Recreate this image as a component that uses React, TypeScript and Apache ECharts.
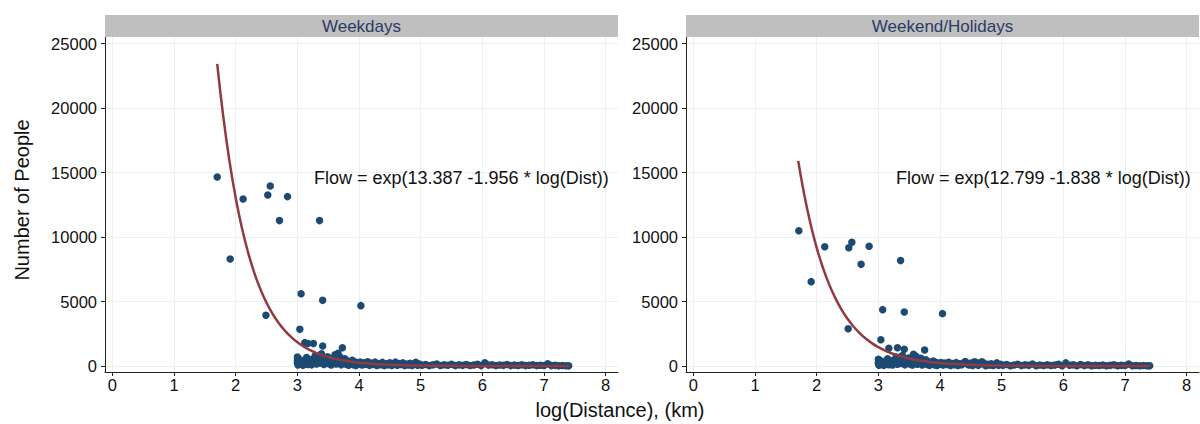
import React, { useEffect, useRef } from "react";
import * as echarts from "echarts";

// ---- tick labels ----
const xTicks = [0, 1, 2, 3, 4, 5, 6, 7, 8];
const yTicks = [0, 5000, 10000, 15000, 20000, 25000];

const panelTitles = ["Weekdays", "Weekend/Holidays"];
const fitLabels = [
  "Flow = exp(13.387 -1.956 * log(Dist))",
  "Flow = exp(12.799 -1.838 * log(Dist))",
];

// ---- Weekdays: isolated points ----
const wdOutX = [1.70, 1.91, 2.12, 2.49, 2.52, 2.56, 2.71, 2.84, 3.36, 3.06, 3.41, 4.03, 3.04, 3.12, 3.17, 3.26, 3.41, 3.73, 3.66, 3.00, 3.00];
const wdOutY = [14650, 8300, 12950, 3930, 13250, 13950, 11270, 13130, 11270, 5600, 5090, 4680, 2840, 1810, 1750, 1750, 1550, 1420, 980, 700, 450];

// ---- Weekdays: dense band ----
const wdBand: number[][] = [
  [3.00, 250], [3.01, 80], [3.03, 520], [3.05, 150], [3.07, 350], [3.09, 60], [3.11, 420], [3.13, 200],
  [3.15, 650], [3.17, 120], [3.19, 380], [3.21, 260], [3.23, 90], [3.25, 540], [3.27, 300], [3.29, 800],
  [3.31, 160], [3.33, 470], [3.35, 620], [3.37, 230], [3.39, 950], [3.41, 380], [3.43, 110], [3.45, 560],
  [3.47, 300], [3.49, 720], [3.51, 180], [3.53, 430], [3.55, 80], [3.57, 600], [3.59, 280], [3.61, 870],
  [3.63, 150], [3.65, 480], [3.67, 330], [3.69, 700], [3.71, 90], [3.73, 420], [3.75, 240], [3.77, 560],
  [3.79, 130], [3.81, 380], [3.83, 60], [3.85, 300], [3.87, 200], [3.89, 450], [3.91, 100], [3.93, 320],
  [3.95, 40], [3.97, 260], [3.99, 150],
  [4.02, 300], [4.05, 80], [4.08, 250], [4.11, 130], [4.14, 330], [4.17, 50], [4.20, 220], [4.23, 120],
  [4.26, 300], [4.29, 40], [4.32, 200], [4.35, 100], [4.38, 280], [4.41, 30], [4.44, 180], [4.47, 90],
  [4.50, 250], [4.53, 40], [4.56, 160], [4.59, 300], [4.62, 60], [4.65, 190], [4.68, 110], [4.71, 240],
  [4.74, 30], [4.77, 150], [4.80, 80], [4.83, 210], [4.86, 40], [4.89, 130], [4.92, 280], [4.95, 60], [4.98, 150],
  [5.02, 60], [5.08, 120], [5.14, 30], [5.20, 90], [5.26, 150], [5.32, 40], [5.38, 100], [5.44, 60],
  [5.50, 130], [5.56, 30], [5.62, 90], [5.68, 50], [5.74, 110], [5.80, 40], [5.86, 80], [5.92, 140],
  [5.98, 30], [6.04, 250], [6.10, 70], [6.16, 100], [6.22, 30], [6.28, 80], [6.34, 50], [6.40, 110],
  [6.46, 30], [6.52, 70], [6.58, 40], [6.64, 90], [6.70, 30], [6.76, 60], [6.82, 100], [6.88, 30],
  [6.94, 60], [7.00, 40], [7.06, 180], [7.12, 30], [7.18, 50], [7.24, 20], [7.30, 40], [7.36, 20], [7.40, 10],
];

// ---- Weekend/Holidays: isolated points ----
const weOutX = [1.71, 1.91, 2.13, 2.51, 2.52, 2.57, 2.72, 2.85, 3.36, 3.07, 3.42, 4.04, 3.04, 3.17, 3.31, 3.42, 3.75, 3.57, 3.00, 3.00];
const weOutY = [10490, 6540, 9250, 2890, 9170, 9590, 7880, 9280, 8170, 4370, 4190, 4060, 2040, 1370, 1420, 1300, 1240, 905, 520, 300];

// ---- Weekend/Holidays: dense band ----
const weBand: number[][] = [
  [3.00, 200], [3.01, 60], [3.03, 420], [3.05, 120], [3.07, 300], [3.09, 50], [3.11, 350], [3.13, 180],
  [3.15, 560], [3.17, 100], [3.19, 320], [3.21, 220], [3.23, 80], [3.25, 460], [3.27, 260], [3.29, 700],
  [3.31, 140], [3.33, 400], [3.35, 540], [3.37, 200], [3.39, 820], [3.41, 330], [3.43, 90], [3.45, 480],
  [3.47, 260], [3.49, 620], [3.51, 150], [3.53, 370], [3.55, 70], [3.57, 520], [3.59, 240], [3.61, 750],
  [3.63, 130], [3.65, 420], [3.67, 280], [3.69, 600], [3.71, 80], [3.73, 360], [3.75, 210], [3.77, 480],
  [3.79, 110], [3.81, 330], [3.83, 50], [3.85, 260], [3.87, 170], [3.89, 390], [3.91, 90], [3.93, 280],
  [3.95, 35], [3.97, 230], [3.99, 130],
  [4.02, 260], [4.05, 70], [4.08, 220], [4.11, 110], [4.14, 290], [4.17, 45], [4.20, 190], [4.23, 100],
  [4.26, 260], [4.29, 35], [4.32, 170], [4.35, 90], [4.38, 240], [4.41, 340], [4.44, 150], [4.47, 80],
  [4.50, 220], [4.53, 35], [4.56, 330], [4.59, 260], [4.62, 50], [4.65, 160], [4.68, 330], [4.71, 210],
  [4.74, 25], [4.77, 130], [4.80, 70], [4.83, 180], [4.86, 35], [4.89, 110], [4.92, 240], [4.95, 50], [4.98, 130],
  [5.02, 50], [5.08, 110], [5.14, 25], [5.20, 80], [5.26, 140], [5.32, 35], [5.38, 90], [5.44, 50],
  [5.50, 150], [5.56, 25], [5.62, 80], [5.68, 45], [5.74, 100], [5.80, 35], [5.86, 70], [5.92, 130],
  [5.98, 25], [6.04, 240], [6.10, 60], [6.16, 90], [6.22, 25], [6.28, 120], [6.34, 45], [6.40, 100],
  [6.46, 25], [6.52, 60], [6.58, 35], [6.64, 80], [6.70, 25], [6.76, 50], [6.82, 90], [6.88, 25],
  [6.94, 50], [7.00, 35], [7.06, 150], [7.12, 25], [7.18, 45], [7.24, 15], [7.30, 35], [7.36, 15], [7.40, 10],
];

// ---- fitted curves (values of the fitted model at these log-distances) ----
const curveX = [1.7, 1.8, 1.9, 2.0, 2.1, 2.2, 2.3, 2.4, 2.5, 2.6, 2.7, 2.8, 2.9, 3.0, 3.1, 3.2, 3.3, 3.4, 3.5, 3.6, 3.7, 3.8, 3.9, 4.0, 4.25, 4.5, 4.75, 5.0, 5.5, 6.0, 6.5, 7.0, 7.4];
const wdCurveY = [23429, 19267, 15844, 13029, 10715, 8811, 7246, 5959, 4900, 4030, 3314, 2725, 2241, 1843, 1515, 1246, 1025, 843, 693, 570, 469, 385, 317, 261, 160, 98, 60, 37, 14, 5, 2, 1, 0.4];
const weCurveY = [15905, 13235, 11013, 9164, 7625, 6345, 5280, 4393, 3656, 3042, 2531, 2106, 1753, 1458, 1213, 1010, 840, 699, 582, 484, 403, 335, 279, 232, 147, 93, 59, 37, 15, 6, 2, 1, 0.4];

const FONT = "'Liberation Sans', Arial, sans-serif";
const DOT = "#1d4a72";
const CURVE = "#923a40";
const GRIDC = "#e9f1f2";

const panelLeft = [105, 686];
const panelWidth = 513;
const plotTop = 37;
const plotHeight = 335;

function zip(xs: number[], ys: number[]) {
  return xs.map((x, i) => [x, ys[i]]);
}

export default function App() {
  const ref = useRef<HTMLDivElement>(null);
  useEffect(() => {
    if (!ref.current) return;
    const chart = echarts.init(ref.current, null, { renderer: "svg" });

    const grids = panelLeft.map((l) => ({
      left: l,
      top: plotTop,
      width: panelWidth,
      height: plotHeight,
      containLabel: false,
    }));

    const xAxes = [0, 1].map((i) => ({
      type: "value",
      gridIndex: i,
      min: -0.12,
      max: 8.2,
      axisLine: { show: true, onZero: false, lineStyle: { color: "#222", width: 1 } },
      axisTick: { show: true, customValues: xTicks, length: 4, lineStyle: { color: "#222" } },
      axisLabel: { customValues: xTicks, color: "#111", fontSize: 16.5, fontFamily: FONT, margin: 4, formatter: (v: number) => String(v) },
      splitLine: { show: true, lineStyle: { color: GRIDC, width: 1 } },
    }));

    const yAxes = [0, 1].map((i) => ({
      type: "value",
      gridIndex: i,
      min: -465,
      max: 25504,
      axisLine: { show: true, onZero: false, lineStyle: { color: "#222", width: 1 } },
      axisTick: { show: true, customValues: yTicks, length: 4, lineStyle: { color: "#222" } },
      axisLabel: { customValues: yTicks, color: "#111", fontSize: 16.5, fontFamily: FONT, margin: 8, formatter: (v: number) => String(v) },
      splitLine: { show: true, lineStyle: { color: GRIDC, width: 1 } },
    }));

    const scatterStyle = { color: DOT, opacity: 1 };
    const SZ = 7.5;
    const series: any[] = [
      { type: "scatter", xAxisIndex: 0, yAxisIndex: 0, data: wdBand, symbolSize: SZ, itemStyle: scatterStyle, z: 2 },
      { type: "scatter", xAxisIndex: 0, yAxisIndex: 0, data: zip(wdOutX, wdOutY), symbolSize: SZ, itemStyle: scatterStyle, z: 2 },
      { type: "line", xAxisIndex: 0, yAxisIndex: 0, data: zip(curveX, wdCurveY), smooth: true, showSymbol: false, lineStyle: { color: CURVE, width: 2.5 }, z: 3 },
      { type: "scatter", xAxisIndex: 1, yAxisIndex: 1, data: weBand, symbolSize: SZ, itemStyle: scatterStyle, z: 2 },
      { type: "scatter", xAxisIndex: 1, yAxisIndex: 1, data: zip(weOutX, weOutY), symbolSize: SZ, itemStyle: scatterStyle, z: 2 },
      { type: "line", xAxisIndex: 1, yAxisIndex: 1, data: zip(curveX, weCurveY), smooth: true, showSymbol: false, lineStyle: { color: CURVE, width: 2.5 }, z: 3 },
    ];

    const graphic: any[] = [];
    panelLeft.forEach((l, i) => {
      graphic.push({
        type: "rect",
        shape: { x: l, y: 15, width: panelWidth, height: 22 },
        style: { fill: "#bfbfbf" },
        z: 10,
      });
      graphic.push({
        type: "text",
        x: l + panelWidth / 2,
        y: 26,
        style: { text: panelTitles[i], fill: "#2c3a66", font: `17px ${FONT}`, align: "center", verticalAlign: "middle" },
        z: 11,
      });
    });
    graphic.push({
      type: "text", x: 314, y: 178,
      style: { text: fitLabels[0], fill: "#111", font: `18px ${FONT}`, align: "left", verticalAlign: "middle" }, z: 11,
    });
    graphic.push({
      type: "text", x: 896, y: 178,
      style: { text: fitLabels[1], fill: "#111", font: `18px ${FONT}`, align: "left", verticalAlign: "middle" }, z: 11,
    });
    graphic.push({
      type: "text", x: 620, y: 410,
      style: { text: "log(Distance), (km)", fill: "#111", font: `20px ${FONT}`, align: "center", verticalAlign: "middle" }, z: 11,
    });
    graphic.push({
      type: "text", x: 22, y: 200, rotation: Math.PI / 2,
      style: { text: "Number of People", fill: "#111", font: `20px ${FONT}`, align: "center", verticalAlign: "middle" }, z: 11,
    });

    chart.setOption({
      animation: false,
      backgroundColor: "#ffffff",
      grid: grids,
      xAxis: xAxes,
      yAxis: yAxes,
      series,
      graphic,
    });
    return () => chart.dispose();
  }, []);
  return <div ref={ref} style={{ position: "fixed", left: 0, top: 0, width: 1200, height: 424 }} />;
}
